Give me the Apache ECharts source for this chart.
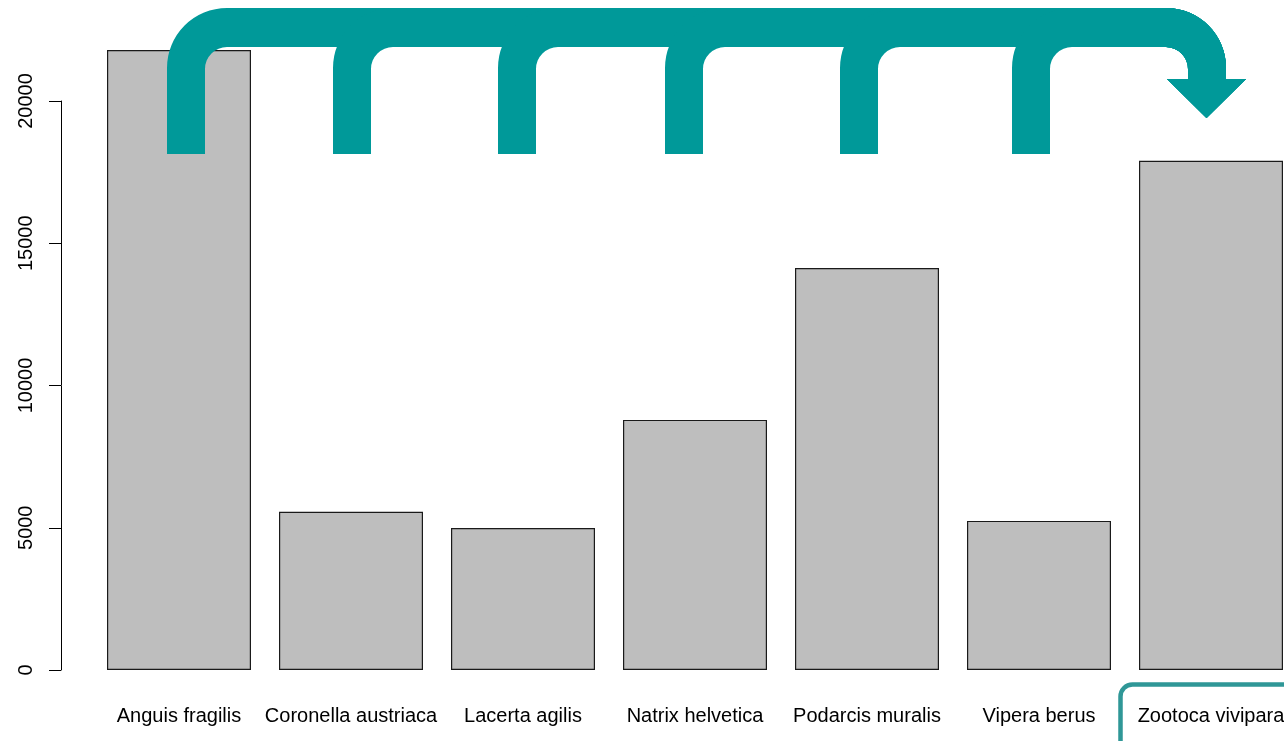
<!DOCTYPE html>
<html>
<head>
<meta charset="utf-8">
<script src="https://cdn.jsdelivr.net/npm/echarts@6/dist/echarts.min.js"></script>
<style>
  html, body { margin: 0; padding: 0; background: #fff; }
  #chart { width: 1284px; height: 741px; }
</style>
</head>
<body>
<div id="chart"></div>
<script>
// Species and their counts
const species = ['Anguis fragilis', 'Coronella austriaca', 'Lacerta agilis', 'Natrix helvetica',
                 'Podarcis muralis', 'Vipera berus', 'Zootoca vivipara'];
const counts = [21790, 5560, 4990, 8790, 14130, 5240, 17900];
const yTicks = [0, 5000, 10000, 15000, 20000];

const FONT = '"Liberation Sans", Arial, sans-serif';
const TEAL = '#009999';

// Arrow overlay: one U-shaped arrow from each source bar over to the last bar
function arrowPath(xl) {
  const w = 38, R = 60, r = 22, top = 8, inner = 47, bottom = 154;
  const xr = 1226, xi = 1188, headY = 79;
  return [
    'M', xl, bottom,
    'L', xl, top + R,
    'A', R, R, 0, 0, 1, xl + R, top,
    'L', xr - R, top,
    'A', R, R, 0, 0, 1, xr, top + R,
    'L', xr, headY,
    'L', 1246, headY,
    'L', 1206.5, 118,
    'L', 1167, headY,
    'L', xi, headY,
    'L', xi, inner + r,
    'A', r, r, 0, 0, 0, xi - r, inner,
    'L', xl + w + r, inner,
    'A', r, r, 0, 0, 0, xl + w, inner + r,
    'L', xl + w, bottom,
    'Z'
  ].join(' ');
}
const stemLefts = [167, 333, 498, 665, 840, 1012];

const chart = echarts.init(document.getElementById('chart'), null, { renderer: 'canvas' });

chart.setOption({
  animation: false,
  backgroundColor: '#fff',
  grid: [
    // categories sit on the ticks, first at x=179 and last at x=1211
    { left: 179, top: 44.1, width: 1032, height: 625.9, outerBoundsMode: 'none' },
    { left: 61, top: 101, width: 10, height: 569, outerBoundsMode: 'none' }
  ],
  xAxis: [
    {
      gridIndex: 0, type: 'category', data: species, boundaryGap: false,
      axisLine: { show: false }, axisTick: { show: false }, splitLine: { show: false },
      axisLabel: { fontFamily: FONT, fontSize: 20, color: '#000', margin: 36, interval: 0 }
    },
    { gridIndex: 1, type: 'value', show: false }
  ],
  yAxis: [
    { gridIndex: 0, type: 'value', min: 0, max: 22000, show: false, splitLine: { show: false } },
    {
      gridIndex: 1, type: 'value', min: yTicks[0], max: yTicks[yTicks.length - 1], interval: 5000,
      splitLine: { show: false },
      axisLine: { show: true, lineStyle: { color: '#000', width: 1 } },
      axisTick: { show: true, length: 12, lineStyle: { color: '#000', width: 1 } },
      axisLabel: {
        rotate: 90, fontFamily: FONT, fontSize: 20, color: '#000', margin: 25,
        formatter: v => String(v)
      }
    }
  ],
  series: [
    {
      type: 'bar', xAxisIndex: 0, yAxisIndex: 0, data: counts,
      barWidth: 144, clip: false,
      itemStyle: { color: '#bebebe', borderColor: '#1a1a1a', borderWidth: 1.2 }
    },
    {
      type: 'custom', coordinateSystem: 'none', silent: true, z: 10,
      data: stemLefts.map(x => [x]),
      renderItem: (params, api) => ({
        type: 'path',
        shape: { pathData: arrowPath(api.value(0)) },
        style: { fill: TEAL, stroke: null }
      })
    }
  ],
  graphic: [
    {
      type: 'rect', z: 100, silent: true,
      shape: { x: 1120.5, y: 684.5, width: 200, height: 90, r: 12 },
      style: { fill: null, stroke: '#2f9797', lineWidth: 4.5 }
    }
  ]
});
</script>
</body>
</html>
